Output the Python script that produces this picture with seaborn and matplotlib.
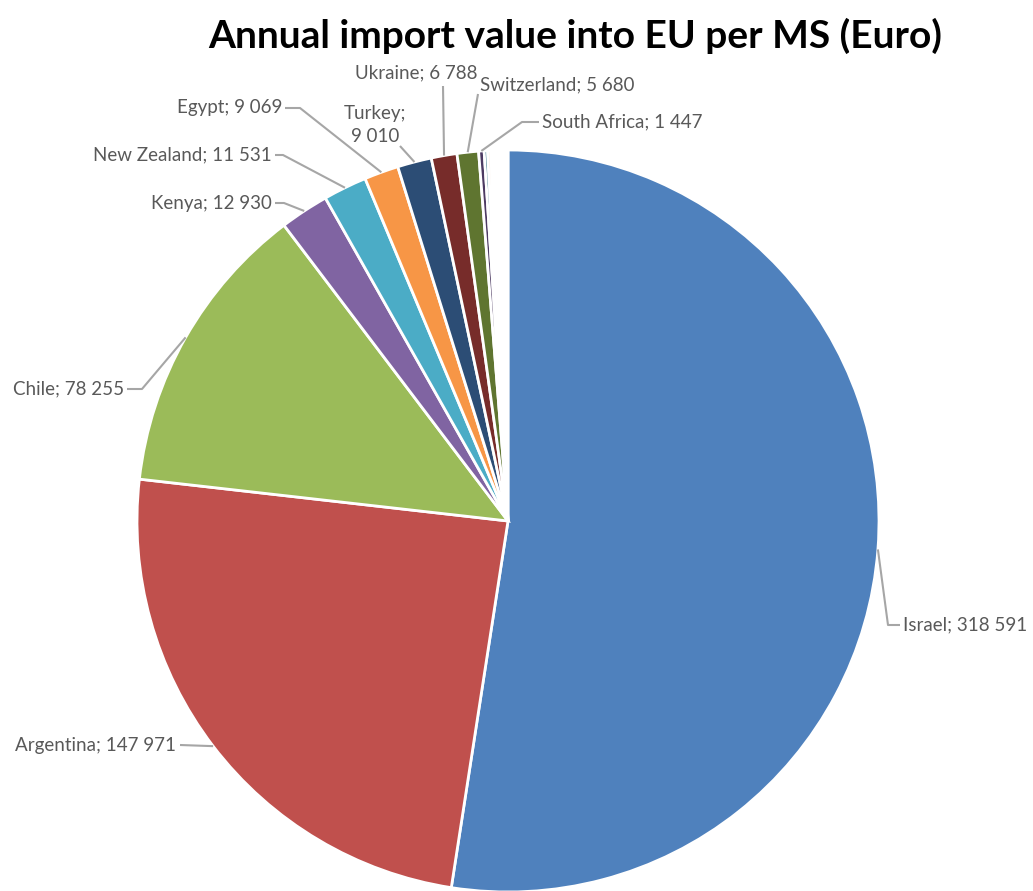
import numpy as np
import matplotlib
matplotlib.use("Agg")
import matplotlib.pyplot as plt
import seaborn as sns

# Annual import values (Euro) by exporting country
countries = ["Israel", "Argentina", "Chile", "Kenya", "New Zealand", "Egypt",
             "Turkey", "Ukraine", "Switzerland", "South Africa", "", "", ""]
values = [318591, 147971, 78255, 12930, 11531, 9069,
          9010, 6788, 5680, 1447, 900, 800, 4530]
colors = ["#4F81BD", "#C0504D", "#9BBB59", "#8064A2", "#4BACC6", "#F79646",
          "#2C4D75", "#772C2A", "#5F7530", "#4D3B62", "#276A7C", "#FAC9A6",
          "#FFFFFF"]
title = "Annual import value into EU per MS (Euro)"

sns.set_theme(style="white")
plt.rcParams["font.family"] = ["Lato", "DejaVu Sans"]

W, H = 1033, 891
fig = plt.figure(figsize=(W / 100, H / 100), dpi=100)
ax = fig.add_axes([0, 0, 1, 1])

cx, cy, R = 508, H - 521, 371
palette = sns.color_palette(colors)
wedges, _ = ax.pie(values, colors=palette, startangle=90, counterclock=False,
                   center=(cx, cy), radius=R,
                   wedgeprops=dict(edgecolor="white", linewidth=2))
ax.set_xlim(0, W)
ax.set_ylim(0, H)
ax.set_aspect("equal")
ax.axis("off")


def fmt(v):
    return f"{v:,}".replace(",", " ")


# label placement in pixel space: (elbow point, text anchor, alignment)
layout = {
    "Israel": ((888, 625), (903, 625), "left"),
    "Argentina": ((180, 745), (176, 745), "right"),
    "Chile": ((142, 389), (124, 389), "right"),
    "Kenya": ((284, 203), (272, 203), "right"),
    "New Zealand": ((283, 155), (272, 155), "right"),
    "Egypt": ((300, 108), (282, 108), "right"),
    "Turkey": ((400, 146), (375, 125), "center"),
    "Ukraine": ((443, 86), (416, 73), "center"),
    "Switzerland": ((478, 94), (480, 85), "left"),
    "South Africa": ((522, 122), (542, 122), "left"),
}
with_tail = ("Israel", "Egypt", "South Africa", "Chile", "Kenya", "New Zealand")

grey = "#A6A6A6"
text_col = "#595959"
for w, name, v in zip(wedges, countries, values):
    if not name:
        continue
    mid = np.deg2rad((w.theta1 + w.theta2) / 2)
    ax_pt = (cx + R * np.cos(mid), cy + R * np.sin(mid))
    (ex, ey), (tx, ty), ha = layout[name]
    ey, ty = H - ey, H - ty
    pts_x = [ax_pt[0], ex]
    pts_y = [ax_pt[1], ey]
    if name in with_tail:
        pts_x.append(tx + (-3 if ha == "left" else 3))
        pts_y.append(ty)
    ax.plot(pts_x, pts_y, color=grey, lw=1.5, solid_capstyle="butt", zorder=1)
    label = f"{name};\n{fmt(v)}" if name == "Turkey" else f"{name}; {fmt(v)}"
    ax.text(tx, ty, label, ha=ha, va="center", fontsize=13.5, color=text_col,
            linespacing=1.45)

fig.text(575 / W, 1 - 36 / H, title, ha="center", va="center",
         fontsize=28, fontweight="bold", color="black")

fig.savefig("out.png", dpi=100)
